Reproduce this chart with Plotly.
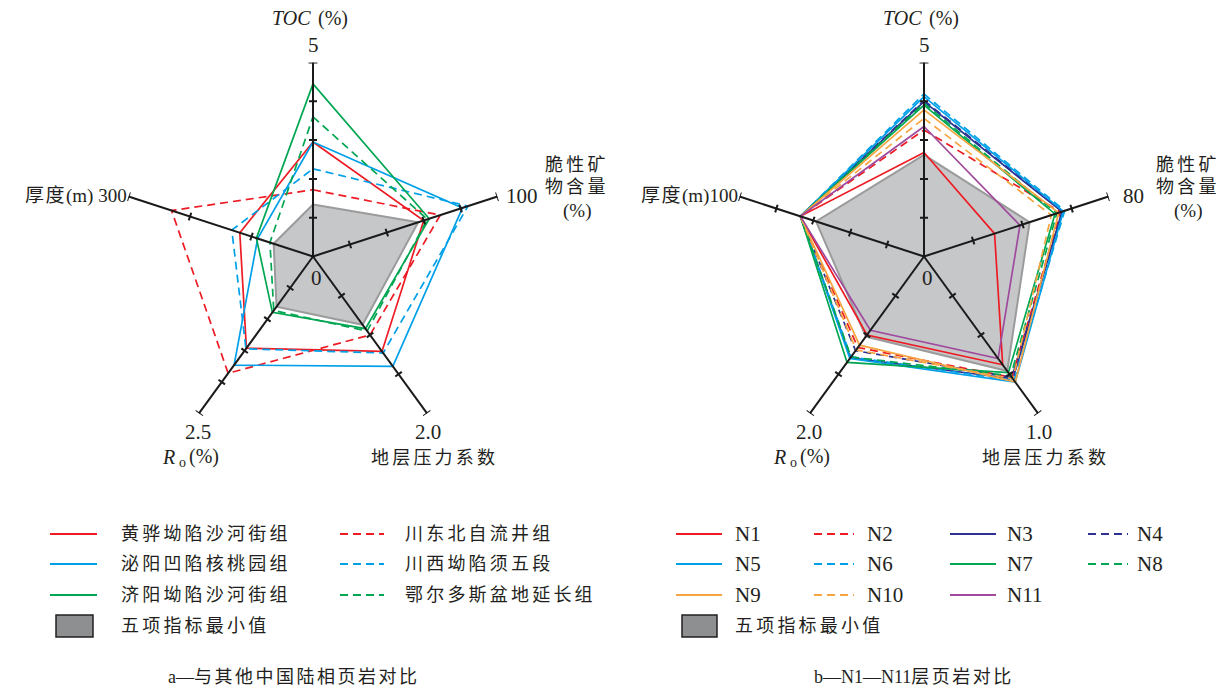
import math
import plotly.graph_objects as go

W, H = 1228, 686
R_PX = 194
THETA = [0, 72, 144, 216, 288]

RED, BLUE, GREEN = "#ed1c24", "#00a0e9", "#00a651"
NAVY, ORANGE, PURPLE = "#2e3192", "#f7a541", "#9f4a9d"
FILL, EDGE = "#c6c7c9", "#9b9b9b"
TXT = "#231f20"
FONT = "'Liberation Serif', 'Noto Sans CJK SC', serif"

# ---------------- chart a ----------------
a_axis_max = [5, 100, 2.0, 2.5, 300]
a_axis_ticks = [[1, 2, 3, 4, 5], [20, 40, 60, 80, 100], [0.5, 1.0, 1.5, 2.0],
                [0.5, 1.0, 1.5, 2.0, 2.5], [100, 200, 300]]
a_end_labels = ["5", "100", "2.0", "2.5", "300"]
a_names = ["黄骅坳陷沙河街组", "川东北自流井组", "泌阳凹陷核桃园组",
           "川西坳陷须五段", "济阳坳陷沙河街组", "鄂尔多斯盆地延长组"]
a_huanghua = [2.95, 60, 1.21, 1.46, 119]
a_chuandongbei = [1.72, 69, 1.00, 1.86, 230]
a_biyang = [2.95, 81, 1.40, 1.73, 90]
a_chuanxi = [2.26, 84, 1.23, 1.47, 132]
a_jiyang = [4.45, 63, 0.92, 0.89, 92]
a_ordos = [3.60, 62, 0.95, 0.86, 70]
a_minimum = [1.34, 57, 0.87, 0.80, 64]
a_values = [a_huanghua, a_chuandongbei, a_biyang, a_chuanxi, a_jiyang, a_ordos]
a_colors = [RED, RED, BLUE, BLUE, GREEN, GREEN]
a_dashes = ["solid", "dash", "solid", "dash", "solid", "dash"]

# ---------------- chart b ----------------
b_axis_max = [5, 80, 1.0, 2.0, 100]
b_axis_ticks = [[1, 2, 3, 4, 5], [21.3, 42.7, 64, 80], [0.25, 0.5, 0.75, 1.0],
                [0.5, 1.0, 1.5, 2.0], [20, 40, 60, 80, 100]]
b_end_labels = ["5", "80", "1.0", "2.0", "100"]
b_names = ["N1", "N2", "N3", "N4", "N5", "N6", "N7", "N8", "N9", "N10", "N11"]
b_N1 = [2.68, 30.6, 0.69, 1.00, 67]
b_N2 = [3.26, 59.2, 0.77, 1.16, 67]
b_N3 = [3.99, 59.8, 0.78, 1.29, 67]
b_N4 = [4.02, 60.2, 0.77, 1.20, 67]
b_N5 = [4.12, 60.4, 0.80, 1.30, 67]
b_N6 = [4.19, 61.0, 0.79, 1.28, 67]
b_N7 = [3.90, 56.8, 0.74, 1.35, 67]
b_N8 = [3.95, 57.6, 0.76, 1.28, 67]
b_N9 = [3.78, 58.4, 0.80, 1.13, 67]
b_N10 = [3.56, 55.2, 0.78, 1.19, 67]
b_N11 = [3.35, 41.6, 0.65, 0.94, 67]
b_minimum = [2.62, 45.8, 0.73, 1.02, 58.5]
b_values = [b_N1, b_N2, b_N3, b_N4, b_N5, b_N6, b_N7, b_N8, b_N9, b_N10, b_N11]
b_colors = [RED, RED, NAVY, NAVY, BLUE, BLUE, GREEN, GREEN, ORANGE, ORANGE, PURPLE]
b_dashes = ["solid", "dash"] * 5 + ["solid"]

min_label = "五项指标最小值"
DASH = "8px,5px"

fig = go.Figure()


def frac(vals, maxes):
    return [v / m for v, m in zip(vals, maxes)]


def add_chart(sub, maxes, ticks, series, colors, dashes, names, minimum):
    r = frac(minimum, maxes)
    fig.add_trace(go.Scatterpolar(r=r + [r[0]], theta=THETA + [THETA[0]], mode="lines",
                                  fill="toself", fillcolor=FILL,
                                  line=dict(color=EDGE, width=2), subplot=sub,
                                  name=min_label, showlegend=False, hoverinfo="skip"))
    for vals, c, d, n in zip(series, colors, dashes, names):
        r = frac(vals, maxes)
        fig.add_trace(go.Scatterpolar(r=r + [r[0]], theta=THETA + [THETA[0]], mode="lines",
                                      line=dict(color=c, width=1.7, dash=DASH if d == "dash" else "solid"),
                                      subplot=sub, name=n, showlegend=False, cliponaxis=False))
    rr, tt = [], []
    for th, m, tks in zip(THETA, maxes, ticks):
        rr += [0, 1, None]
        tt += [th, th, None]
        for v in tks:
            f = v / m
            h = (4.5 if abs(f - 1) < 1e-9 else 4.0) / R_PX
            rt = math.hypot(f, h)
            dt = math.degrees(math.atan2(h, f))
            rr += [rt, rt, None]
            tt += [th - dt, th + dt, None]
    fig.add_trace(go.Scatterpolar(r=rr, theta=tt, mode="lines", line=dict(color="#1a1a1a", width=2),
                                  subplot=sub, showlegend=False, hoverinfo="skip",
                                  cliponaxis=False, connectgaps=False))


add_chart("polar", a_axis_max, a_axis_ticks, a_values, a_colors, a_dashes, a_names, a_minimum)
add_chart("polar2", b_axis_max, b_axis_ticks, b_values, b_colors, b_dashes, b_names, b_minimum)

CX = [313, 924]
CY = 256.5


def px(x, y):
    return x / W, 1 - y / H


def dom(cx):
    return dict(x=[(cx - R_PX) / W, (cx + R_PX) / W],
                y=[(H - CY - R_PX) / H, (H - CY + R_PX) / H])


polar_common = dict(bgcolor="rgba(0,0,0,0)",
                    radialaxis=dict(visible=False, range=[0, 1]),
                    angularaxis=dict(visible=False, rotation=90, direction="clockwise"))

annotations = []


def cjk(s, sp=3.2):
    return f'<span style="letter-spacing:{sp}px">{s}</span>'


def ann(x, y, text, size=20, xanchor="center", yanchor="middle", align="center", style="normal"):
    xx, yy = px(x, y)
    annotations.append(dict(x=xx, y=yy, xref="paper", yref="paper", text=text, showarrow=False,
                            xanchor=xanchor, yanchor=yanchor, align=align,
                            font=dict(family=FONT, size=size, color=TXT, style=style)))


for cx, ends, thk_sep in zip(CX, [a_end_labels, b_end_labels], [" ", ""]):
    ann(cx, 18, "TOC", size=20, xanchor="right", style="italic")
    ann(cx + 3, 18, "(%)", size=20, xanchor="left")
    ann(cx, 45, ends[0], size=21)
    ann(cx + 209, 196, ends[1], size=21)
    ann(cx + 264, 165, cjk("脆性矿"), size=18)
    ann(cx + 264, 187, cjk("物含量"), size=18)
    ann(cx + 264, 211, "(%)", size=19)
    ann(cx + 115, 432, ends[2], size=21)
    ann(cx + 121, 458, cjk("地层压力系数"), size=18)
    ann(cx - 115, 432, ends[3], size=21)
    ann(cx - 136, 457, "R", size=20, xanchor="right", style="italic")
    ann(cx - 131, 462, "o", size=14)
    ann(cx - 126, 457, "(%)", size=20, xanchor="left")
    ann(cx - 184, 196, cjk("厚度", 1.5) + "(m)" + thk_sep + ends[4], size=19, xanchor="right")
    ann(cx + 3, 278, "0", size=21)

# ---------------- legends (manual) ----------------
shapes = []
ROWS = [534, 564, 595, 626]


def leg_line(x0, x1, y, color, dash):
    X0, Y = px(x0, y)
    X1, _ = px(x1, y)
    shapes.append(dict(type="line", xref="paper", yref="paper", x0=X0, x1=X1, y0=Y, y1=Y,
                       line=dict(color=color, width=2, dash=DASH if dash == "dash" else "solid")))


def leg_box(x0, x1, y0, y1):
    X0, Y0 = px(x0, y0)
    X1, Y1 = px(x1, y1)
    shapes.append(dict(type="rect", xref="paper", yref="paper", x0=X0, x1=X1, y0=Y0, y1=Y1,
                       fillcolor="#8e8f91", line=dict(color="#231f20", width=1.5)))


a_cols_line = [(50, 97), (340, 384)]
a_cols_text = [119, 403]
for i, (n, c, d) in enumerate(zip(a_names, a_colors, a_dashes)):
    row, col = divmod(i, 2)
    leg_line(*a_cols_line[col], ROWS[row], c, d)
    ann(a_cols_text[col], ROWS[row], cjk(n), size=18, xanchor="left")
leg_box(56, 93, 615, 637)
ann(a_cols_text[0], ROWS[3], cjk(min_label), size=18, xanchor="left")

b_cols_line = [(676, 722), (814, 854), (950, 996), (1088, 1128)]
b_cols_text = [733, 865, 1005, 1135]
for i, (n, c, d) in enumerate(zip(b_names, b_colors, b_dashes)):
    row, col = divmod(i, 4)
    leg_line(*b_cols_line[col], ROWS[row], c, d)
    ann(b_cols_text[col], ROWS[row], n, size=21, xanchor="left")
leg_box(682, 717, 615, 637)
ann(b_cols_text[0], ROWS[3], cjk(min_label), size=18, xanchor="left")

ann(294, 677, "a—" + cjk("与其他中国陆相页岩对比", 2.5), size=18)
ann(914, 677, "b—N1—N11" + cjk("层页岩对比", 2.5), size=18)

fig.update_layout(
    width=W, height=H, margin=dict(l=0, r=0, t=0, b=0),
    paper_bgcolor="white", plot_bgcolor="white", showlegend=False,
    polar=dict(domain=dom(CX[0]), **polar_common),
    polar2=dict(domain=dom(CX[1]), **polar_common),
    annotations=annotations, shapes=shapes,
)

fig.write_html("out.html")
